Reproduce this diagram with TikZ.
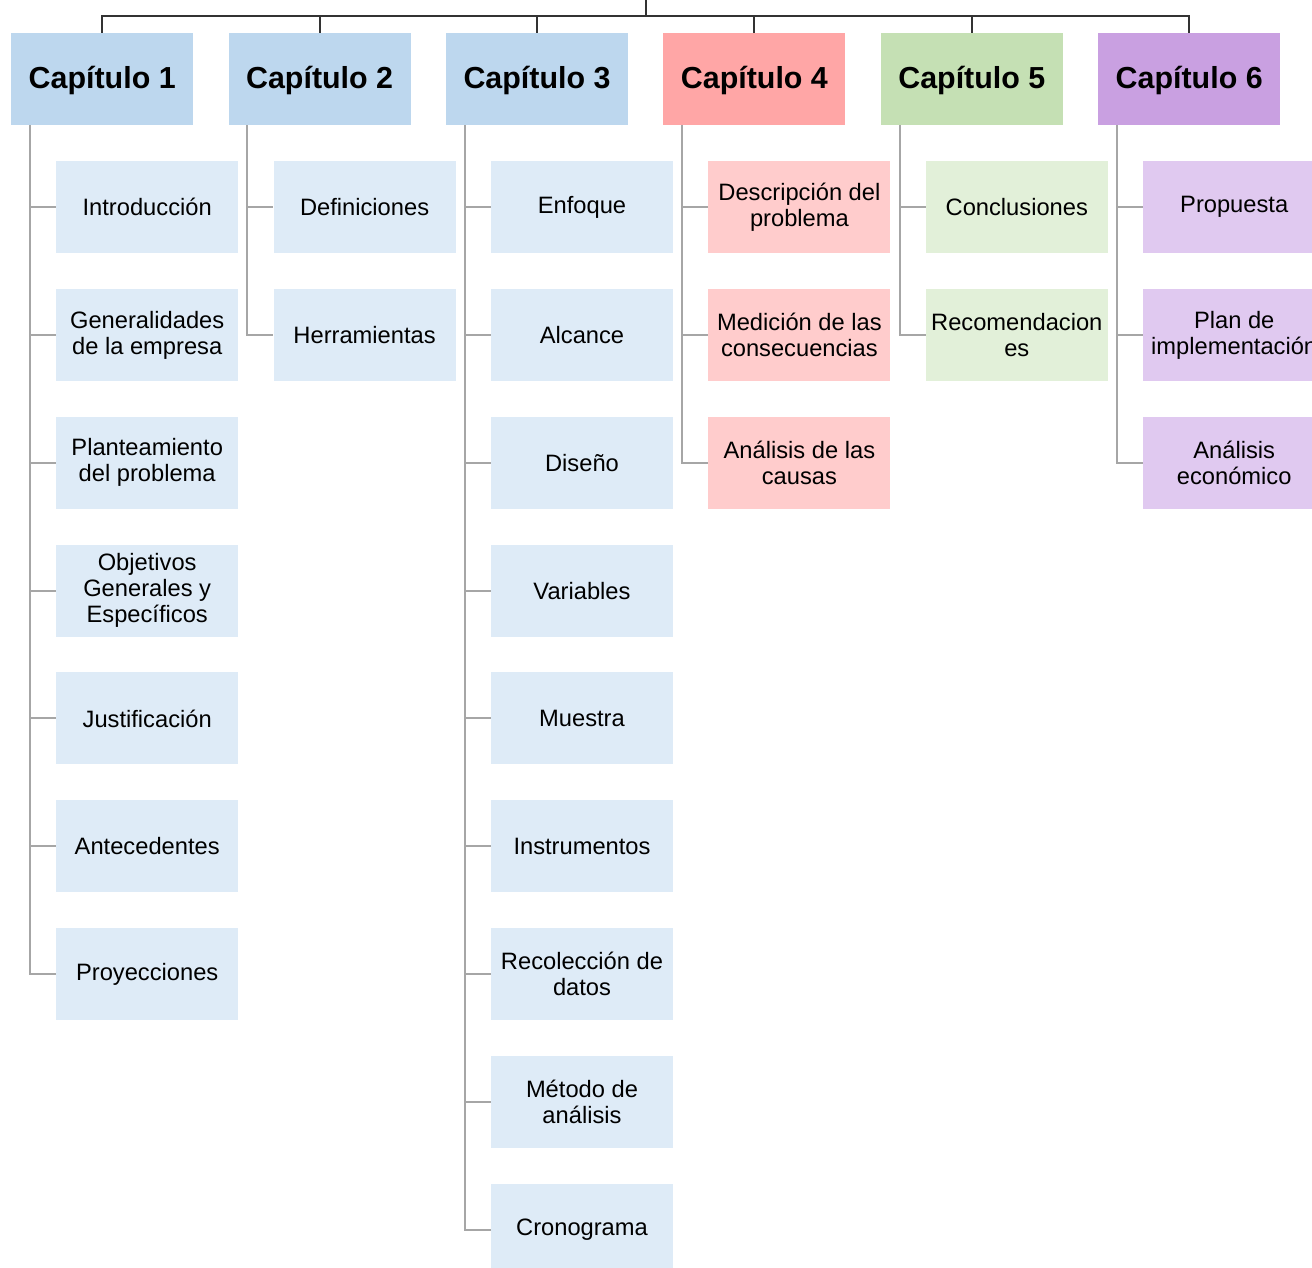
\documentclass[tikz,border=0pt]{standalone}
\usepackage{fontspec}
\setmainfont{Liberation Sans}
\usetikzlibrary{calc}

\definecolor{chapblue}{HTML}{BDD7EE}
\definecolor{itemblue}{HTML}{DEEBF7}
\definecolor{chapred}{HTML}{FFA6A6}
\definecolor{itemred}{HTML}{FFCCCC}
\definecolor{chapgreen}{HTML}{C5E0B4}
\definecolor{itemgreen}{HTML}{E2F0D9}
\definecolor{chappurple}{HTML}{C9A0E1}
\definecolor{itempurple}{HTML}{E0C9F0}
\definecolor{branchgray}{HTML}{A6A6A6}
\definecolor{rootline}{HTML}{333333}

\tikzset{
  box/.style={rectangle, anchor=north west, inner sep=0pt,
    minimum width=182pt, minimum height=92pt, align=center, text=black},
  chapter/.style={box, font=\fontsize{30.4}{34}\selectfont\bfseries,
    text height=22pt, text depth=3pt},
  item/.style={box, font=\fontsize{23.7}{26}\selectfont},
  branch/.style={draw=branchgray, line width=2pt},
  rootbar/.style={draw=rootline, line width=2pt},
}

\begin{document}
\begin{tikzpicture}[x=1pt, y=-1pt]
\useasboundingbox (0,0) rectangle (1312,1268);
\clip (0,0) rectangle (1312,1268);

% chapter headers
\node[chapter, fill=chapblue]   (c1) at (11,33)     {Capítulo 1};
\node[chapter, fill=chapblue]   (c2) at (228.4,33)  {Capítulo 2};
\node[chapter, fill=chapblue]   (c3) at (445.8,33)  {Capítulo 3};
\node[chapter, fill=chapred]    (c4) at (663.2,33)  {Capítulo 4};
\node[chapter, fill=chapgreen]  (c5) at (880.6,33)  {Capítulo 5};
\node[chapter, fill=chappurple] (c6) at (1098,33)   {Capítulo 6};

% chapter 1
\node[item, fill=itemblue] (c1-1) at (56,161)     {Introducción};
\node[item, fill=itemblue] (c1-2) at (56,288.8)   {Generalidades\\de la empresa};
\node[item, fill=itemblue] (c1-3) at (56,416.6)   {Planteamiento\\del problema};
\node[item, fill=itemblue] (c1-4) at (56,544.4)   {Objetivos\\Generales y\\Específicos};
\node[item, fill=itemblue] (c1-5) at (56,672.2)   {Justificación};
\node[item, fill=itemblue] (c1-6) at (56,800)     {Antecedentes};
\node[item, fill=itemblue] (c1-7) at (56,927.8)   {Proyecciones};

% chapter 2
\node[item, fill=itemblue] (c2-1) at (273.4,161)   {Definiciones};
\node[item, fill=itemblue] (c2-2) at (273.4,288.8) {Herramientas};

% chapter 3
\node[item, fill=itemblue] (c3-1) at (490.8,161)    {Enfoque};
\node[item, fill=itemblue] (c3-2) at (490.8,288.8)  {Alcance};
\node[item, fill=itemblue] (c3-3) at (490.8,416.6)  {Diseño};
\node[item, fill=itemblue] (c3-4) at (490.8,544.4)  {Variables};
\node[item, fill=itemblue] (c3-5) at (490.8,672.2)  {Muestra};
\node[item, fill=itemblue] (c3-6) at (490.8,800)    {Instrumentos};
\node[item, fill=itemblue] (c3-7) at (490.8,927.8)  {Recolección de\\datos};
\node[item, fill=itemblue] (c3-8) at (490.8,1055.6) {Método de\\análisis};
\node[item, fill=itemblue] (c3-9) at (490.8,1183.4) {Cronograma};

% chapter 4
\node[item, fill=itemred] (c4-1) at (708.2,161)   {Descripción del\\problema};
\node[item, fill=itemred] (c4-2) at (708.2,288.8) {Medición de las\\consecuencias};
\node[item, fill=itemred] (c4-3) at (708.2,416.6) {Análisis de las\\causas};

% chapter 5
\node[item, fill=itemgreen] (c5-1) at (925.6,161)   {Conclusiones};
\node[item, fill=itemgreen] (c5-2) at (925.6,288.8) {Recomendacion\\es};

% chapter 6
\node[item, fill=itempurple] (c6-1) at (1143,161)   {Propuesta};
\node[item, fill=itempurple] (c6-2) at (1143,288.8) {Plan de\\implementación};
\node[item, fill=itempurple] (c6-3) at (1143,416.6) {Análisis\\económico};

% root connector
\coordinate (top) at (646,0);
\coordinate (hub) at (646,16);
\draw[rootbar] (top) -- (hub);
\foreach \c in {c1,c2,c3,c4,c5,c6}
  \draw[rootbar] (hub) -| (\c.north);

% branch connectors
\foreach \c/\n in {c1/7, c2/2, c3/9, c4/3, c5/2, c6/3}
  \foreach \k in {1,...,\n}
    \draw[branch] ($(\c.south west)+(19,0)$) |- (\c-\k.west);
\end{tikzpicture}
\end{document}
